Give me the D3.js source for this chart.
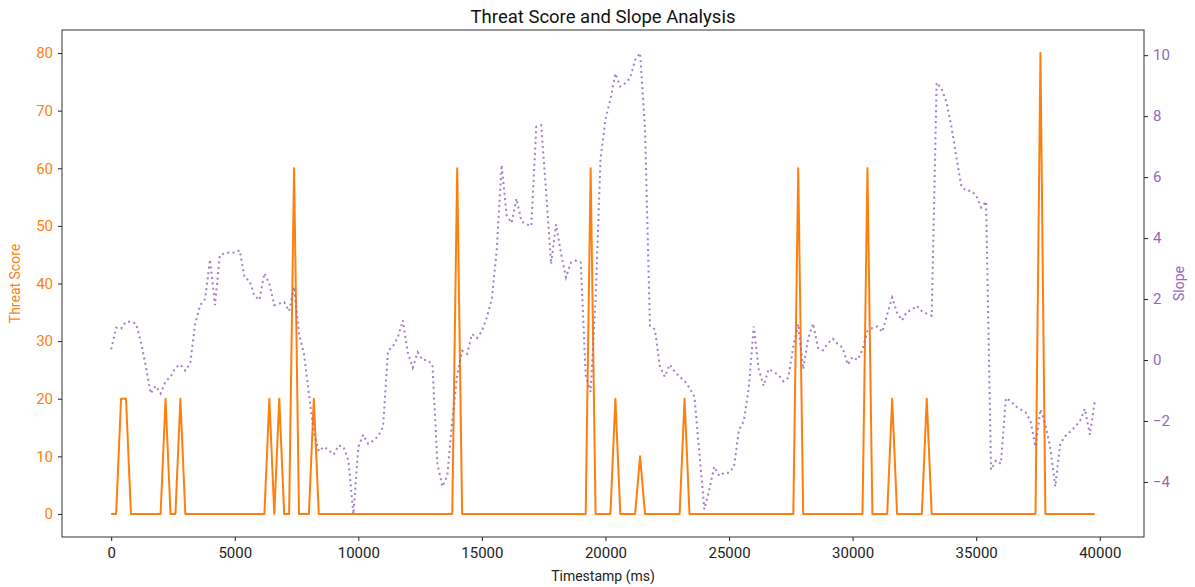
<!DOCTYPE html>
<html>
<head>
<meta charset="utf-8">
<script src="https://cdn.jsdelivr.net/npm/d3@7"></script>
<style>
  body { margin: 0; background: #fff; }
  svg text { font-family: Roboto, "Open Sans", sans-serif; }
</style>
</head>
<body>
<svg id="chart" width="1195" height="587"></svg>
<script>

// sampling interval of the timestamps (ms)
var step_ms = 200;

var threat_score = [
    0, 0, 20, 20, 0, 0, 0, 0, 0, 0,   0, 20, 0, 0, 20, 0, 0, 0, 0, 0,
    0, 0, 0, 0, 0, 0, 0, 0, 0, 0,     0, 0, 20, 0, 20, 0, 0, 60, 0, 0,
    0, 20, 0, 0, 0, 0, 0, 0, 0, 0,    0, 0, 0, 0, 0, 0, 0, 0, 0, 0,
    0, 0, 0, 0, 0, 0, 0, 0, 0, 0,     60, 0, 0, 0, 0, 0, 0, 0, 0, 0,
    0, 0, 0, 0, 0, 0, 0, 0, 0, 0,     0, 0, 0, 0, 0, 0, 0, 60, 0, 0,
    0, 0, 20, 0, 0, 0, 0, 10, 0, 0,   0, 0, 0, 0, 0, 0, 20, 0, 0, 0,
    0, 0, 0, 0, 0, 0, 0, 0, 0, 0,     0, 0, 0, 0, 0, 0, 0, 0, 0, 60,
    0, 0, 0, 0, 0, 0, 0, 0, 0, 0,     0, 0, 0, 60, 0, 0, 0, 0, 20, 0,
    0, 0, 0, 0, 0, 20, 0, 0, 0, 0,    0, 0, 0, 0, 0, 0, 0, 0, 0, 0,
    0, 0, 0, 0, 0, 0, 0, 0, 80, 0,    0, 0, 0, 0, 0, 0, 0, 0, 0, 0
];

var slope = [
    0.35, 1.06, 1.03, 1.26, 1.25, 1.2, 0.6, -0.2, -1.1, -0.85,
    -1.1, -0.7, -0.55, -0.25, -0.15, -0.35, -0.1, 1.2, 1.8, 2.0,
    3.3, 1.8, 3.45, 3.5, 3.53, 3.52, 3.6, 2.7, 2.6, 2.1,
    1.97, 2.85, 2.5, 1.8, 1.85, 1.9, 1.6, 2.4, 0.85, 0.2,
    -1.1, -2.4, -3.0, -2.85, -2.95, -3.1, -2.8, -2.85, -3.3, -5.05,
    -2.85, -2.45, -2.75, -2.65, -2.5, -2.2, 0.3, 0.45, 0.75, 1.3,
    0.25, -0.25, 0.25, 0.0, 0.0, -0.15, -3.4, -4.15, -3.8, -2.0,
    -0.5, 0.3, 0.2, 0.85, 0.72, 0.95, 1.4, 2.0, 3.6, 6.4,
    4.75, 4.5, 5.3, 4.55, 4.45, 4.4, 7.65, 7.7, 5.5, 3.15,
    4.45, 3.5, 2.71, 3.2, 3.26, 3.2, -0.5, -1.05, 2.0, 6.6,
    7.9, 8.55, 9.4, 8.97, 9.08, 9.25, 9.85, 10.07, 7.6, 1.12,
    1.0, -0.2, -0.55, -0.15, -0.38, -0.55, -0.68, -0.92, -1.2, -3.05,
    -4.9, -4.25, -3.5, -3.8, -3.7, -3.7, -3.5, -2.3, -2.0, -0.9,
    1.1, -0.3, -0.85, -0.3, -0.38, -0.5, -0.7, -0.58, 0.45, 1.18,
    -0.3, 0.7, 1.2, 0.4, 0.32, 0.55, 0.7, 0.52, 0.4, -0.15,
    0.1, 0.0, 0.35, 0.95, 1.05, 1.1, 0.92, 1.5, 2.05, 1.55,
    1.3, 1.58, 1.65, 1.78, 1.6, 1.52, 1.45, 9.1, 8.9, 8.45,
    7.65, 6.65, 5.7, 5.55, 5.55, 5.4, 5.0, 5.2, -3.6, -3.3,
    -3.4, -1.25, -1.35, -1.52, -1.62, -1.72, -2.0, -2.85, -1.62, -2.1,
    -2.9, -4.15, -2.75, -2.5, -2.35, -2.2, -2.0, -1.6, -2.45, -1.35
];

var x_ticks = [0, 5000, 10000, 15000, 20000, 25000, 30000, 35000, 40000];
var left_ticks = [0, 10, 20, 30, 40, 50, 60, 70, 80];
var right_ticks = [-4, -2, 0, 2, 4, 6, 8, 10];

var orange = "#ff7f0e", purple = "#9467bd";
//-------------------------------------------------------------------------------------------------------------------------

var data = threat_score.map(function(d, i) {
    return {t: i * step_ms, score: d, slope: slope[i]};
});

var svg = d3.select("#chart");
var margin = {top: 30, left: 62, bottom: 50, right: 51};
var width = 1195, height = 587;

// matplotlib-like 5% padding around the data
function padded(ext) {
    var p = (ext[1] - ext[0]) * 0.05;
    return [ext[0] - p, ext[1] + p];
}

var x = d3.scaleLinear()
    .domain(padded(d3.extent(data, d => d.t)))
    .range([margin.left, width - margin.right]);

var y = d3.scaleLinear()
    .domain(padded(d3.extent(data, d => d.score)))
    .range([height - margin.bottom, margin.top]);

var y2 = d3.scaleLinear()
    .domain(padded(d3.extent(data, d => d.slope)))
    .range([height - margin.bottom, margin.top]);

// lines
var score_line = d3.line().x(d => x(d.t)).y(d => y(d.score));
var slope_line = d3.line().x(d => x(d.t)).y(d => y2(d.slope));

svg.append("path")
    .datum(data)
    .attr("d", score_line)
    .attr("fill", "none")
    .attr("stroke", orange)
    .attr("stroke-width", 2)
    .attr("stroke-linejoin", "round");

svg.append("path")
    .datum(data)
    .attr("d", slope_line)
    .attr("fill", "none")
    .attr("stroke", purple)
    .attr("stroke-opacity", 0.85)
    .attr("stroke-width", 2)
    .attr("stroke-dasharray", "2,3.4");

// axes
var xAxis = svg.append("g")
    .attr("transform", `translate(0,${height - margin.bottom})`)
    .call(d3.axisBottom(x).tickValues(x_ticks).tickSize(4).tickPadding(6).tickFormat(d3.format("d")));

var yAxis = svg.append("g")
    .attr("transform", `translate(${margin.left},0)`)
    .call(d3.axisLeft(y).tickValues(left_ticks).tickSize(4).tickPadding(5));

var y2Axis = svg.append("g")
    .attr("transform", `translate(${width - margin.right},0)`)
    .call(d3.axisRight(y2).tickValues(right_ticks).tickSize(4).tickPadding(5).tickFormat(d => d < 0 ? "\u2212" + Math.abs(d) : d));

[xAxis, yAxis, y2Axis].forEach(function(g) {
    g.select(".domain").remove();
    g.selectAll(".tick line").attr("stroke", "#222");
    g.selectAll(".tick text").attr("font-size", 15).attr("fill", "#222");
});
yAxis.selectAll(".tick text").attr("fill", orange);
y2Axis.selectAll(".tick text").attr("fill", purple);

// frame
svg.append("rect")
    .attr("x", margin.left)
    .attr("y", margin.top)
    .attr("width", width - margin.left - margin.right)
    .attr("height", height - margin.top - margin.bottom)
    .attr("fill", "none")
    .attr("stroke", "#333")
    .attr("stroke-width", 1);

// labels
svg.append("text")
    .attr("x", (margin.left + width - margin.right) / 2)
    .attr("y", 23)
    .attr("text-anchor", "middle")
    .attr("font-size", 18.5)
    .attr("fill", "#111")
    .text("Threat Score and Slope Analysis");

svg.append("text")
    .attr("x", (margin.left + width - margin.right) / 2)
    .attr("y", 581)
    .attr("text-anchor", "middle")
    .attr("font-size", 14)
    .attr("fill", "#222")
    .text("Timestamp (ms)");

svg.append("text")
    .attr("transform", `translate(20,${(margin.top + height - margin.bottom) / 2}) rotate(-90)`)
    .attr("text-anchor", "middle")
    .attr("font-size", 14)
    .attr("fill", orange)
    .text("Threat Score");

svg.append("text")
    .attr("transform", `translate(1184,${(margin.top + height - margin.bottom) / 2}) rotate(-90)`)
    .attr("text-anchor", "middle")
    .attr("font-size", 14)
    .attr("fill", purple)
    .text("Slope");
</script>
</body>
</html>
